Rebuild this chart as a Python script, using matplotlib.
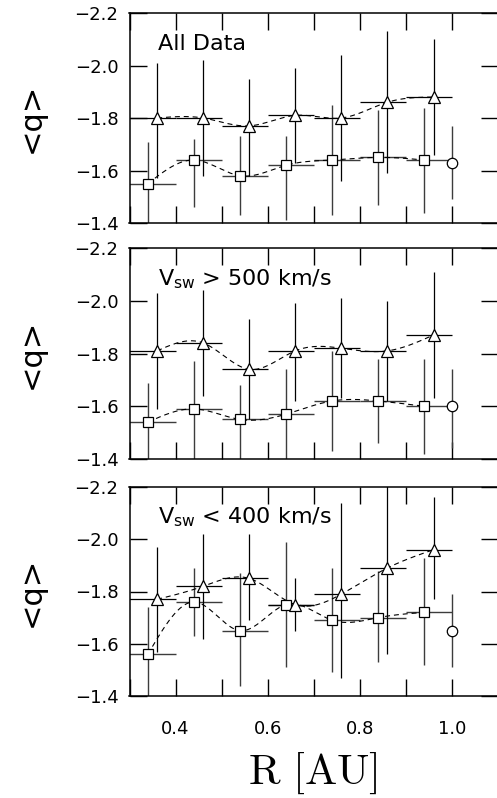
import numpy as np
import matplotlib
matplotlib.use("Agg")
import matplotlib.pyplot as plt
from matplotlib.ticker import MultipleLocator, FuncFormatter

# radial bins [AU]
bin_lo = [0.3, 0.4, 0.5, 0.6, 0.7, 0.8, 0.9]
bin_hi = [0.4, 0.5, 0.6, 0.7, 0.8, 0.9, 1.0]
r_sq = [0.34, 0.44, 0.54, 0.64, 0.74, 0.84, 0.94]
r_tri = [0.36, 0.46, 0.56, 0.66, 0.76, 0.86, 0.96]
r_1au = 1.0

# All data
all_sq = [-1.55, -1.64, -1.58, -1.62, -1.64, -1.65, -1.64]
all_sq_top = [-1.71, -1.72, -1.73, -1.73, -1.85, -1.83, -1.84]
all_sq_bot = [-1.38, -1.46, -1.43, -1.41, -1.43, -1.47, -1.44]
all_tri = [-1.80, -1.80, -1.77, -1.81, -1.80, -1.86, -1.88]
all_tri_top = [-2.01, -2.02, -1.95, -1.99, -2.04, -2.13, -2.10]
all_tri_bot = [-1.57, -1.58, -1.58, -1.63, -1.56, -1.59, -1.66]
all_1au = [-1.63, -1.77, -1.49]

# fast wind
fast_sq = [-1.54, -1.59, -1.55, -1.57, -1.62, -1.62, -1.60]
fast_sq_top = [-1.69, -1.77, -1.68, -1.74, -1.81, -1.78, -1.78]
fast_sq_bot = [-1.38, -1.40, -1.38, -1.40, -1.43, -1.46, -1.42]
fast_tri = [-1.81, -1.84, -1.74, -1.81, -1.82, -1.81, -1.87]
fast_tri_top = [-2.03, -2.04, -1.93, -1.99, -2.01, -2.00, -2.11]
fast_tri_bot = [-1.59, -1.64, -1.55, -1.62, -1.63, -1.62, -1.63]
fast_1au = [-1.60, -1.74, -1.44]

# slow wind
slow_sq = [-1.56, -1.76, -1.65, -1.75, -1.69, -1.70, -1.72]
slow_sq_top = [-1.74, -1.89, -1.87, -1.99, -1.89, -1.88, -1.93]
slow_sq_bot = [-1.38, -1.63, -1.44, -1.51, -1.49, -1.53, -1.52]
slow_tri = [-1.77, -1.82, -1.85, -1.75, -1.79, -1.89, -1.96]
slow_tri_top = [-1.97, -2.02, -2.02, -1.85, -2.14, -2.22, -2.16]
slow_tri_bot = [-1.57, -1.62, -1.69, -1.65, -1.47, -1.56, -1.77]
slow_1au = [-1.65, -1.79, -1.51]

panels = [
    ("All Data", all_sq, all_sq_top, all_sq_bot, all_tri, all_tri_top, all_tri_bot, all_1au),
    ("V$_{\\mathregular{sw}}$ > 500 km/s", fast_sq, fast_sq_top, fast_sq_bot,
     fast_tri, fast_tri_top, fast_tri_bot, fast_1au),
    ("V$_{\\mathregular{sw}}$ < 400 km/s", slow_sq, slow_sq_top, slow_sq_bot,
     slow_tri, slow_tri_top, slow_tri_bot, slow_1au),
]


def spline(x, y, n=300):
    # natural cubic spline through the points, for the dashed guide line
    x = np.asarray(x, float)
    y = np.asarray(y, float)
    m = len(x)
    h = np.diff(x)
    A = np.zeros((m, m))
    b = np.zeros(m)
    A[0, 0] = A[-1, -1] = 1.0
    for i in range(1, m - 1):
        A[i, i - 1] = h[i - 1]
        A[i, i] = 2 * (h[i - 1] + h[i])
        A[i, i + 1] = h[i]
        b[i] = 3 * ((y[i + 1] - y[i]) / h[i] - (y[i] - y[i - 1]) / h[i - 1])
    c = np.linalg.solve(A, b)
    xs = np.linspace(x[0], x[-1], n)
    k = np.clip(np.searchsorted(x, xs) - 1, 0, m - 2)
    dx = xs - x[k]
    bk = (y[k + 1] - y[k]) / h[k] - h[k] * (2 * c[k] + c[k + 1]) / 3
    dk = (c[k + 1] - c[k]) / (3 * h[k])
    return xs, y[k] + bk * dx + c[k] * dx ** 2 + dk * dx ** 3


def fmt(v, pos):
    return ("%.1f" % v).replace("-", "\u2212")


fig = plt.figure(figsize=(4.97, 7.98), dpi=100)
left = 129.5 / 497
width = 368.5 / 497
boxes = [(13, 223), (248, 459), (487, 696)]

lo = np.array(bin_lo)
hi = np.array(bin_hi)

for i, (label, sq, sq_top, sq_bot, tri, tri_top, tri_bot, one) in enumerate(panels):
    top, bot = boxes[i]
    ax = fig.add_axes([left, 1 - bot / 798, width, (bot - top) / 798])
    sq = np.array(sq)
    tri = np.array(tri)
    rs = np.array(r_sq)
    rt = np.array(r_tri)

    ax.errorbar(rs, sq, yerr=[sq - np.array(sq_top), np.array(sq_bot) - sq],
                xerr=[rs - lo, hi - rs], fmt="none", ecolor="#3c3c3c",
                elinewidth=1.0, capsize=0, zorder=2)
    ax.errorbar(rt, tri, yerr=[tri - np.array(tri_top), np.array(tri_bot) - tri],
                xerr=[rt - lo, hi - rt], fmt="none", ecolor="black",
                elinewidth=0.9, capsize=0, zorder=2)
    ax.errorbar([r_1au], [one[0]], yerr=[[one[0] - one[1]], [one[2] - one[0]]],
                fmt="none", ecolor="#3c3c3c", elinewidth=1.0, capsize=0, zorder=2)

    xs, ys = spline(rs, sq)
    ax.plot(xs, ys, color="black", lw=0.8, dashes=(4.5, 3.5), zorder=3)
    xs, ys = spline(rt, tri)
    ax.plot(xs, ys, color="black", lw=0.8, dashes=(4.5, 3.5), zorder=3)

    ax.plot(rs, sq, ls="none", marker="s", ms=7, mfc="white", mec="black",
            mew=0.9, zorder=4)
    ax.plot(rt, tri, ls="none", marker="^", ms=8, mfc="white", mec="black",
            mew=0.9, zorder=4)
    ax.plot([r_1au], [one[0]], ls="none", marker="o", ms=7.5, mfc="white",
            mec="black", mew=0.9, zorder=4)

    ax.set_xlim(0.3, 1.1)
    ax.set_ylim(-1.4, -2.2)
    ax.set_yticks([-2.2, -2.0, -1.8, -1.6, -1.4])
    ax.yaxis.set_major_formatter(FuncFormatter(fmt))
    ax.xaxis.set_major_locator(MultipleLocator(0.2))
    ax.xaxis.set_minor_locator(MultipleLocator(0.1))
    ax.tick_params(which="both", direction="in", top=True, right=True,
                   length=12, width=1.0, labelsize=13)
    ax.tick_params(axis="y", pad=8)
    ax.tick_params(axis="x", pad=17)
    for s in ax.spines.values():
        s.set_linewidth(1.1)
    if i < 2:
        ax.tick_params(axis="x", labelbottom=False)

    ax.text(0.076, 0.825, label, transform=ax.transAxes, fontsize=16,
            ha="left", va="baseline")
    ax.set_ylabel("<q>", fontsize=22)
    ax.yaxis.set_label_coords(-0.266, 0.5)
    ax.yaxis.label.set_va("center")

    if i == 2:
        ax.set_xlabel("$\\mathrm{R\\ [AU]}$", fontsize=31, math_fontfamily="cm")
        ax.xaxis.set_label_coords(0.497, -0.37)
        ax.xaxis.label.set_va("center")

fig.savefig("out.png", dpi=100)
